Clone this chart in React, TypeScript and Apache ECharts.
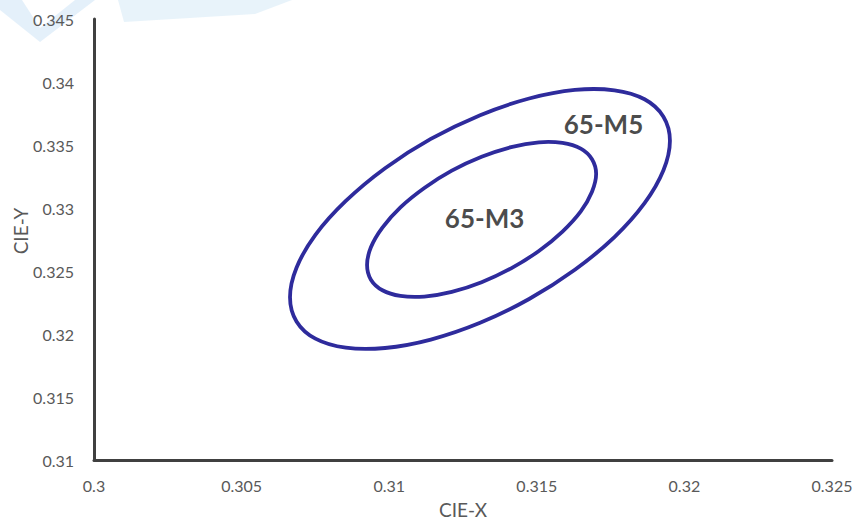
import React, { useEffect, useRef } from "react";
import * as echarts from "echarts";

const xTicks = [0.3, 0.305, 0.31, 0.315, 0.32, 0.325];
const yTicks = [0.31, 0.315, 0.32, 0.325, 0.33, 0.335, 0.34, 0.345];

// 65-M5 (5-step) closed outline
const m5Ellipse: [number, number][] = [
  [0.31951, 0.33533], [0.31929, 0.33725], [0.31865, 0.33863], [0.31763, 0.33934],
  [0.31629, 0.33937], [0.31474, 0.33869], [0.31308, 0.33737], [0.31141, 0.33548],
  [0.30986, 0.33316], [0.30853, 0.33056], [0.3075, 0.32787], [0.30686, 0.32526],
  [0.30664, 0.32292], [0.30686, 0.321], [0.3075, 0.31963], [0.30853, 0.31891],
  [0.30986, 0.31889], [0.31141, 0.31956], [0.31308, 0.32089], [0.31474, 0.32278],
  [0.31629, 0.3251], [0.31763, 0.32769], [0.31865, 0.33038], [0.31929, 0.33299],
];

// 65-M3 (3-step) closed outline
const m3Ellipse: [number, number][] = [
  [0.31701, 0.33271], [0.31687, 0.33387], [0.31649, 0.33471], [0.31587, 0.33516],
  [0.31507, 0.33521], [0.31413, 0.33483], [0.31313, 0.33406], [0.31212, 0.33296],
  [0.31119, 0.33159], [0.31038, 0.33005], [0.30977, 0.32844], [0.30938, 0.32688],
  [0.30925, 0.32547], [0.30938, 0.32431], [0.30977, 0.32347], [0.31038, 0.32302],
  [0.31119, 0.32297], [0.31212, 0.32334], [0.31313, 0.32411], [0.31413, 0.32521],
  [0.31507, 0.32659], [0.31587, 0.32813], [0.31649, 0.32973], [0.31687, 0.33129],
];

const labels: { name: string; value: [number, number] }[] = [
  { name: "65-M5", value: [0.31726, 0.33667] },
  { name: "65-M3", value: [0.31323, 0.32921] },
];

const xAxisName = "CIE-X";
const yAxisName = "CIE-Y";

const FONT = "Lato, 'Open Sans', sans-serif";
const LINE = "#2e2b9c";

// closed Catmull-Rom curve through pixel points, as SVG path data
function closedCurve(pts: number[][]): string {
  const n = pts.length;
  const f = (v: number) => v.toFixed(2);
  let d = `M${f(pts[0][0])} ${f(pts[0][1])}`;
  for (let i = 0; i < n; i++) {
    const p0 = pts[(i - 1 + n) % n];
    const p1 = pts[i];
    const p2 = pts[(i + 1) % n];
    const p3 = pts[(i + 2) % n];
    const c1x = p1[0] + (p2[0] - p0[0]) / 6;
    const c1y = p1[1] + (p2[1] - p0[1]) / 6;
    const c2x = p2[0] - (p3[0] - p1[0]) / 6;
    const c2y = p2[1] - (p3[1] - p1[1]) / 6;
    d += ` C${f(c1x)} ${f(c1y)} ${f(c2x)} ${f(c2y)} ${f(p2[0])} ${f(p2[1])}`;
  }
  return d + " Z";
}

function outlineSeries(name: string, pts: [number, number][]) {
  return {
    type: "custom",
    name,
    data: pts,
    encode: { x: 0, y: 1 },
    renderItem: (params: any, api: any) => {
      if (params.dataIndex !== 0) return null;
      const px = pts.map((p) => api.coord(p));
      return {
        type: "path",
        shape: { pathData: closedCurve(px) },
        style: { stroke: LINE, lineWidth: 3.8, fill: "none" },
      };
    },
  };
}

export default function App() {
  const ref = useRef<HTMLDivElement>(null);
  useEffect(() => {
    if (!ref.current) return;
    const chart = echarts.init(ref.current, undefined, { renderer: "svg" });
    chart.setOption({
      animation: false,
      backgroundColor: "#ffffff",
      graphic: [
        {
          type: "polygon",
          silent: true,
          z: -10,
          shape: { points: [[0, 0], [22, 0], [40, 28], [75, 0], [95, 0], [40, 42], [0, 10]] },
          style: { fill: "rgba(205,228,245,0.55)" },
        },
        {
          type: "polygon",
          silent: true,
          z: -10,
          shape: { points: [[118, 0], [292, 0], [255, 14], [124, 22]] },
          style: { fill: "rgba(205,228,245,0.45)" },
        },
        {
          type: "text",
          x: 20,
          y: 231,
          rotation: Math.PI / 2,
          style: {
            text: yAxisName,
            fill: "#595959",
            font: `19px ${FONT}`,
            align: "center",
            verticalAlign: "middle",
          },
        },
      ],
      grid: { left: 94, right: 27, top: 19, bottom: 67, containLabel: false, outerBoundsMode: "none" },
      xAxis: {
        type: "value",
        min: xTicks[0],
        max: xTicks[xTicks.length - 1],
        interval: 0.005,
        name: xAxisName,
        nameLocation: "middle",
        nameGap: 40,
        nameTextStyle: { color: "#595959", fontSize: 19, fontFamily: FONT },
        axisLine: { show: true, lineStyle: { color: "#404040", width: 3 } },
        axisTick: { show: false },
        splitLine: { show: false },
        axisLabel: {
          color: "#595959",
          fontSize: 16,
          fontFamily: FONT,
          margin: 17,
          formatter: (v: number) => String(parseFloat(v.toFixed(3))),
        },
      },
      yAxis: {
        type: "value",
        min: yTicks[0],
        max: yTicks[yTicks.length - 1],
        interval: 0.005,
        axisLine: { show: true, lineStyle: { color: "#404040", width: 3 } },
        axisTick: { show: false },
        splitLine: { show: false },
        axisLabel: {
          color: "#595959",
          fontSize: 16,
          fontFamily: FONT,
          margin: 20,
          formatter: (v: number) => String(parseFloat(v.toFixed(3))),
        },
      },
      series: [
        outlineSeries("65-M5", m5Ellipse),
        outlineSeries("65-M3", m3Ellipse),
        {
          type: "scatter",
          data: labels,
          symbolSize: 0,
          label: {
            show: true,
            position: "inside",
            formatter: (p: any) => p.name,
            color: "#1a1a1a",
            fontSize: 26,
            fontWeight: "bold",
            fontFamily: FONT,
          },
        },
      ],
    });
    return () => chart.dispose();
  }, []);
  return <div ref={ref} style={{ width: 859, height: 527, position: "fixed", left: 0, top: 0 }} />;
}
